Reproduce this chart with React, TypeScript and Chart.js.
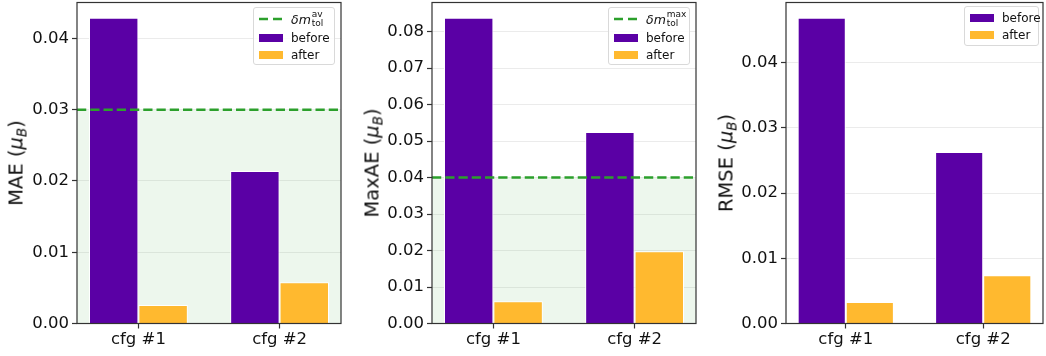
import React, { useEffect, useRef } from "react";
import { Chart, registerables } from "chart.js";
Chart.register(...registerables);

// ---- data ----
const categories = ["cfg #1", "cfg #2"];
const seriesLabels = ["before", "after"];
const maeBefore = [0.0429, 0.0214];
const maeAfter = [0.0026, 0.0058];
const maxaeBefore = [0.0838, 0.0525];
const maxaeAfter = [0.0061, 0.0198];
const rmseBefore = [0.0469, 0.0263];
const rmseAfter = [0.0033, 0.0074];
const maeTolerance = 0.03;
const maxaeTolerance = 0.04;
const maeTicks = [0, 0.01, 0.02, 0.03, 0.04];
const maxaeTicks = [0, 0.01, 0.02, 0.03, 0.04, 0.05, 0.06, 0.07, 0.08];
const rmseTicks = [0, 0.01, 0.02, 0.03, 0.04];

// ---- style ----
const PURPLE = "#5a00a5";
const ORANGE = "#ffb92f";
const GREEN = "#2ca02c";
const DARK = "#333333";
const FONT = "'DejaVu Sans', sans-serif";
const H = 356;
const TOP = 2.5;
const XAXIS_H = 32.5;

type PanelProps = {
  left: number;
  width: number;
  yAxisWidth: number;
  padRight: number;
  before: number[];
  after: number[];
  ticks: number[];
  tol: number | null;
  yTitle: React.ReactNode;
  titleX: number;
  legend: { left: number; top: number; width: number; height: number; tolLabel: string | null; rowYs: number[] };
};

function Panel(p: PanelProps) {
  const ref = useRef<HTMLCanvasElement>(null);
  useEffect(() => {
    if (!ref.current) return;
    const ymax = Math.max(...p.before, ...p.after) * 1.05;
    const decor = {
      id: "decor",
      beforeDatasetsDraw(chart: any) {
        if (p.tol == null) return;
        const { ctx, chartArea } = chart;
        const y = chart.scales.y.getPixelForValue(p.tol);
        ctx.save();
        ctx.fillStyle = "rgba(44,160,44,0.085)";
        ctx.fillRect(chartArea.left, y, chartArea.right - chartArea.left, chartArea.bottom - y);
        ctx.restore();
      },
      afterDatasetsDraw(chart: any) {
        if (p.tol == null) return;
        const { ctx, chartArea } = chart;
        const y = chart.scales.y.getPixelForValue(p.tol);
        ctx.save();
        ctx.strokeStyle = GREEN;
        ctx.lineWidth = 2.5;
        ctx.setLineDash([9.25, 4]);
        ctx.beginPath();
        ctx.moveTo(chartArea.left, y);
        ctx.lineTo(chartArea.right, y);
        ctx.stroke();
        ctx.restore();
      },
      afterDraw(chart: any) {
        const { ctx, chartArea } = chart;
        ctx.save();
        ctx.strokeStyle = DARK;
        ctx.lineWidth = 1.2;
        ctx.strokeRect(chartArea.left, chartArea.top, chartArea.right - chartArea.left, chartArea.bottom - chartArea.top);
        ctx.restore();
      },
    };
    const chart = new Chart(ref.current, {
      type: "bar",
      data: {
        datasets: [
          {
            label: seriesLabels[0],
            data: p.before.map((v, i) => ({ x: i, y: v })),
            backgroundColor: PURPLE,
            borderColor: "#ffffff",
            borderWidth: 1,
            categoryPercentage: 0.7,
            barPercentage: 1,
          },
          {
            label: seriesLabels[1],
            data: p.after.map((v, i) => ({ x: i, y: v })),
            backgroundColor: ORANGE,
            borderColor: "#ffffff",
            borderWidth: 1,
            categoryPercentage: 0.7,
            barPercentage: 1,
          },
        ],
      } as any,
      options: {
        animation: false,
        responsive: false,
        devicePixelRatio: 1,
        layout: { padding: { top: TOP, right: p.padRight, left: 0, bottom: 0 } },
        plugins: { legend: { display: false }, tooltip: { enabled: false } },
        scales: {
          x: {
            type: "linear",
            min: -0.435,
            max: 1.435,
            offset: false,
            afterBuildTicks: (s: any) => {
              s.ticks = categories.map((_, i) => ({ value: i }));
            },
            afterFit: (s: any) => {
              s.height = XAXIS_H;
              s.paddingLeft = 0;
              s.paddingRight = 0;
            },
            ticks: {
              callback: (v: any) => categories[Math.round(Number(v))] ?? "",
              font: { family: FONT, size: 16.5 },
              color: "#111",
              padding: 1,
              autoSkip: false,
              maxRotation: 0,
            },
            grid: { offset: false, drawOnChartArea: false, tickLength: 5, tickColor: DARK, tickWidth: 1.2 },
            border: { display: false },
          },
          y: {
            type: "linear",
            min: 0,
            max: ymax,
            z: 1,
            afterBuildTicks: (s: any) => {
              s.ticks = p.ticks.map((v) => ({ value: v }));
            },
            afterFit: (s: any) => {
              s.width = p.yAxisWidth;
              s.paddingTop = 0;
              s.paddingBottom = 0;
            },
            ticks: {
              callback: (v: any) => Number(v).toFixed(2),
              font: { family: FONT, size: 16.5 },
              color: "#111",
              padding: 3,
            },
            grid: { color: "rgba(0,0,0,0.08)", tickColor: DARK, tickLength: 5, tickWidth: 1.2, lineWidth: 1 },
            border: { display: false },
          },
        },
      } as any,
      plugins: [decor],
    });
    return () => chart.destroy();
  }, []);

  const lg = p.legend;
  const handleRect = (c: string) => (
    <div style={{ position: "absolute", left: 5, width: 24, height: 8.5, marginTop: -4.25, background: c }} />
  );
  const rows: React.ReactNode[] = [];
  let ri = 0;
  if (lg.tolLabel) {
    rows.push(
      <div key="tol" style={{ position: "absolute", left: 0, top: lg.rowYs[ri++], width: "100%" }}>
        <svg width={30} height={6} style={{ position: "absolute", left: 4, top: -3 }}>
          <line x1={1} y1={3} x2={29} y2={3} stroke={GREEN} strokeWidth={2.5} strokeDasharray="9,5" />
        </svg>
        <div style={{ position: "absolute", left: 37, top: -10, whiteSpace: "nowrap", display: "flex", alignItems: "center", height: 20 }}>
          <span style={{ fontStyle: "italic", fontSize: 12.5 }}>δm</span>
          <span style={{ display: "inline-flex", flexDirection: "column", fontSize: 9, lineHeight: "9px", marginLeft: 1 }}>
            <span>{lg.tolLabel}</span>
            <span>tol</span>
          </span>
        </div>
      </div>
    );
  }
  [PURPLE, ORANGE].forEach((c, k) => {
    rows.push(
      <div key={"s" + k} style={{ position: "absolute", left: 0, top: lg.rowYs[ri++], width: "100%" }}>
        {handleRect(c)}
        <div style={{ position: "absolute", left: 37, top: -8, lineHeight: "16px", whiteSpace: "nowrap" }}>{seriesLabels[k]}</div>
      </div>
    );
  });

  return (
    <>
      <canvas
        ref={ref}
        width={p.width}
        height={H}
        style={{ position: "absolute", left: p.left, top: 0, width: p.width, height: H, display: "block" }}
      />
      <div
        style={{
          position: "absolute",
          left: p.titleX,
          top: (TOP + (H - XAXIS_H)) / 2,
          transform: "translate(-50%, -50%) rotate(-90deg)",
          whiteSpace: "nowrap",
          fontFamily: FONT,
          fontSize: 19.5,
          color: "#111",
        }}
      >
        {p.yTitle}
      </div>
      <div
        style={{
          position: "absolute",
          left: lg.left,
          top: lg.top,
          width: lg.width,
          height: lg.height,
          boxSizing: "border-box",
          border: "1px solid #d9d9d9",
          borderRadius: 3,
          background: "rgba(255,255,255,0.85)",
          fontFamily: FONT,
          fontSize: 12,
          color: "#111",
        }}
      >
        {rows}
      </div>
    </>
  );
}

const mu = (name: string) => (
  <span>
    {name} (<i>μ</i>
    <sub style={{ fontSize: 13.5, fontStyle: "italic", verticalAlign: "-4px" }}>B</sub>)
  </span>
);

export default function App() {
  return (
    <div style={{ position: "fixed", left: 0, top: 0, width: 1046, height: H, background: "#fff", overflow: "hidden" }}>
      <Panel
        left={0}
        width={345}
        yAxisWidth={77}
        padRight={4}
        before={maeBefore}
        after={maeAfter}
        ticks={maeTicks}
        tol={maeTolerance}
        yTitle={mu("MAE")}
        titleX={17}
        legend={{ left: 253, top: 7, width: 82, height: 58, tolLabel: "av", rowYs: [11, 30, 47] }}
      />
      <Panel
        left={350}
        width={350}
        yAxisWidth={82}
        padRight={4}
        before={maxaeBefore}
        after={maxaeAfter}
        ticks={maxaeTicks}
        tol={maxaeTolerance}
        yTitle={mu("MaxAE")}
        titleX={373}
        legend={{ left: 608, top: 7, width: 82, height: 58, tolLabel: "max", rowYs: [11, 30, 47] }}
      />
      <Panel
        left={705}
        width={341}
        yAxisWidth={81}
        padRight={3}
        before={rmseBefore}
        after={rmseAfter}
        ticks={rmseTicks}
        tol={null}
        yTitle={mu("RMSE")}
        titleX={727}
        legend={{ left: 964, top: 6, width: 75, height: 40, tolLabel: null, rowYs: [11, 28] }}
      />
    </div>
  );
}
